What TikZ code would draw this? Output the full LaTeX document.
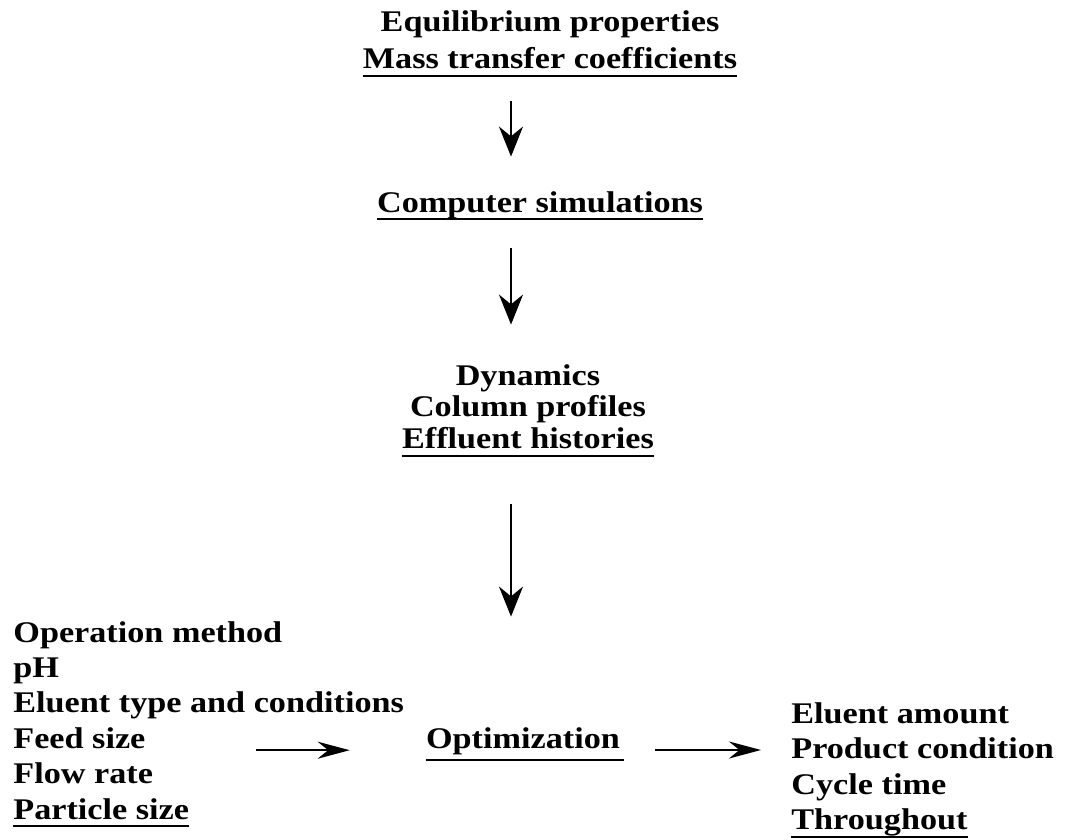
\documentclass[tikz,border=0pt]{standalone}
\usepackage{fontspec}
\setmainfont{Liberation Serif}[FakeStretch=1.14]
\usetikzlibrary{positioning,arrows.meta}
% underlined text, #1 = depth of the rule below the baseline
\newcommand{\undl}[2][4pt]{\setbox0\hbox{#2}\rlap{\rule[-#1]{\wd0}{1pt}}\box0}

\begin{document}
\begin{tikzpicture}[x=0.5pt,y=-0.5pt,
    txt/.style={font=\bfseries\fontsize{15pt}{18pt}\selectfont,inner sep=0pt,text height=10.5pt,text depth=3pt},
    varr/.style={-{Stealth[length=15pt,width=12pt]},line width=1pt},
    harr/.style={-{Stealth[length=16pt,width=8.5pt]},line width=1pt}]
    \useasboundingbox (0,0) rectangle (1065,840);
    \coordinate (ax) at (511,0);

    % model inputs
    \node[txt,anchor=base] (equil) at (550,32) {Equilibrium properties};
    \node[txt,below=4.5pt of equil] (mass) {\undl{Mass transfer coefficients}};
    \node[txt,anchor=base] (comp) at (540,212) {\undl{Computer simulations}};
    \node[txt,anchor=base] (dyn) at (528,385) {Dynamics};
    \node[txt,below=2pt of dyn] (col) {Column profiles};
    \node[txt,below=2pt of col] (eff) {\undl{Effluent histories}};

    % operating variables
    \node[txt,anchor=base west] (op) at (13,642) {Operation method};
    \node[txt,below=3.8pt of op.south west,anchor=north west] (ph) {pH};
    \node[txt,below=3.8pt of ph.south west,anchor=north west] (elu) {Eluent type and conditions};
    \node[txt,below=3.8pt of elu.south west,anchor=north west] (feed) {Feed size};
    \node[txt,below=3.8pt of feed.south west,anchor=north west] (flow) {Flow rate};
    \node[txt,below=3.8pt of flow.south west,anchor=north west] (part) {\undl{Particle size}};

    \node[txt,anchor=base] (opt) at (525,748) {\undl[6.5pt]{Optimization\hspace{2pt}}};

    % results
    \node[txt,anchor=base west] (amt) at (791,723) {Eluent amount};
    \node[txt,below=3.85pt of amt.south west,anchor=north west] (prod) {Product condition};
    \node[txt,below=3.85pt of prod.south west,anchor=north west] (cyc) {Cycle time};
    \node[txt,below=3.85pt of cyc.south west,anchor=north west] (thr) {\undl{Throughout}};

    \draw[varr,shorten <=13pt,shorten >=17pt] (mass.south -| ax) -- (comp.north -| ax);
    \draw[varr,shorten <=15pt,shorten >=19.5pt] (comp.south -| ax) -- (dyn.north -| ax);
    \draw[varr,shorten <=24.5pt,shorten >=55pt] (eff.south -| ax) -- (opt.north -| ax);
    \draw[harr,shorten <=55pt,shorten >=38pt] ([yshift=-1pt]feed.base east) -- ([yshift=-1pt]feed.base east -| opt.west);
    \draw[harr,shorten <=15.5pt,shorten >=15pt] ([yshift=-1pt]opt.base east) -- ([yshift=-1pt]opt.base east -| prod.west);
\end{tikzpicture}
\end{document}
